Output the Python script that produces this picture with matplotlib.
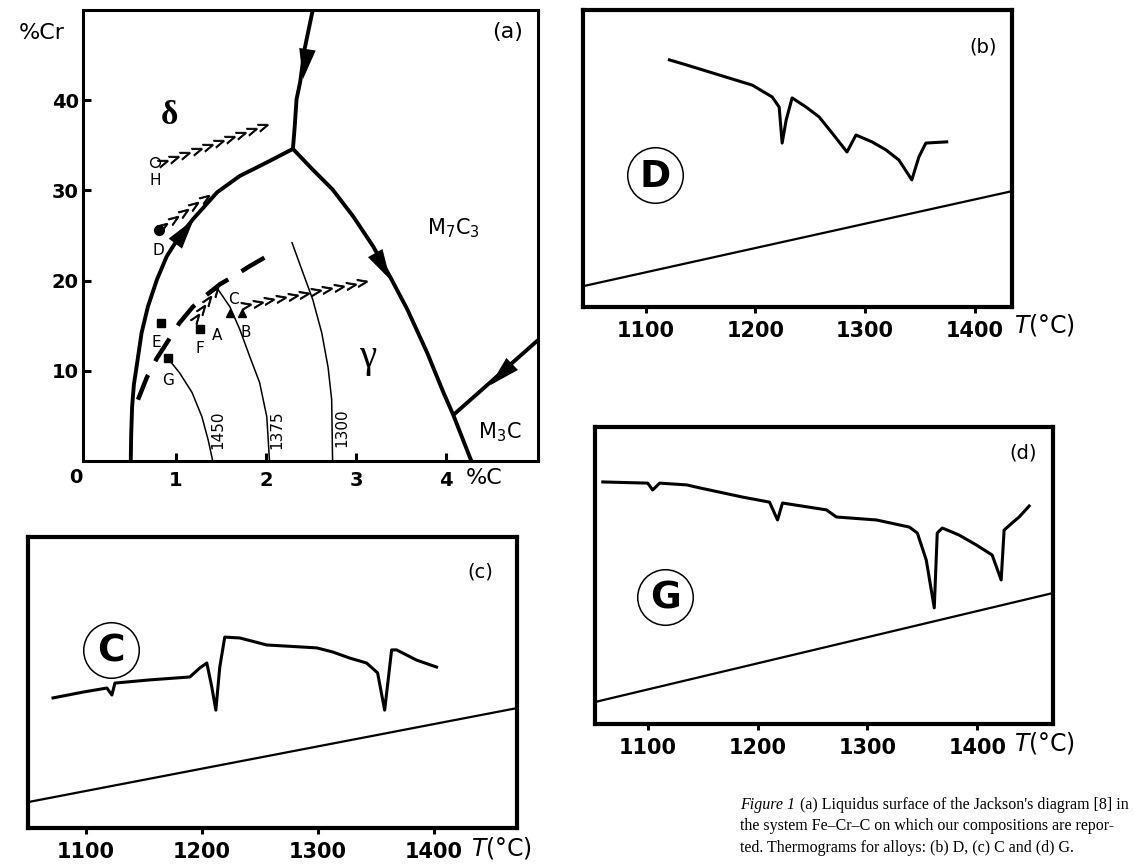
import numpy as np
import matplotlib
matplotlib.use('Agg')
import matplotlib.pyplot as plt
from matplotlib.markers import MarkerStyle
from matplotlib.transforms import Affine2D

# ---- panel (a): liquidus surface, Jackson's diagram (%C, %Cr) ----
# thick univariant lines
delta_gamma_C = [0.50, 0.505, 0.515, 0.535, 0.57, 0.62, 0.69, 0.79, 0.90, 1.04, 1.19, 1.46, 1.71, 2.01, 2.30]
delta_gamma_Cr = [0.0, 3.0, 6.0, 8.5, 10.8, 14.2, 17.1, 20.1, 22.7, 24.9, 26.8, 29.8, 31.6, 33.1, 34.6]
top_C = [2.30, 2.32, 2.34, 2.38, 2.43, 2.52]
top_Cr = [34.6, 37.1, 40.1, 42.0, 45.7, 50.0]
gamma_m7_C = [2.30, 2.52, 2.74, 2.97, 3.19, 3.38, 3.57, 3.79, 3.97, 4.08, 4.28]
gamma_m7_Cr = [34.6, 32.3, 30.1, 27.1, 23.8, 20.4, 16.8, 12.0, 7.6, 5.1, 0.0]
m3c_C = [4.08, 5.02]
m3c_Cr = [5.1, 13.4]
# dashed line
dash_C = [0.58, 0.68, 0.79, 0.90, 1.04, 1.19, 1.34, 1.49, 1.63, 1.82, 2.08]
dash_Cr = [6.8, 9.3, 11.4, 13.1, 15.3, 17.1, 18.4, 19.6, 20.4, 21.6, 23.1]
# isotherms
iso_labels = ['1450', '1375', '1300']
iso_C = [[0.91, 1.04, 1.18, 1.29, 1.36, 1.41],
         [1.47, 1.60, 1.71, 1.82, 1.93, 2.01, 2.04],
         [2.29, 2.41, 2.52, 2.62, 2.69, 2.73, 2.74]]
iso_Cr = [[11.4, 9.8, 7.6, 4.9, 2.3, 0.0],
          [19.0, 17.1, 14.6, 11.6, 8.7, 4.9, 0.0],
          [24.2, 20.9, 17.9, 14.2, 10.4, 6.8, 0.0]]
# flow arrows on the thick lines (tail, head)
arrow_tail = [(1.01, 24.3), (2.47, 46.2), (3.16, 24.0), (4.82, 11.6)]
arrow_head = [(1.20, 26.8), (2.41, 42.3), (3.38, 20.1), (4.49, 8.4)]
# alloy compositions
alloy_names = ['H', 'D', 'E', 'F', 'G', 'A', 'B']
alloy_C = [0.77, 0.81, 0.84, 1.27, 0.91, 1.60, 1.73]
alloy_Cr = [33.2, 25.6, 15.3, 14.6, 11.4, 16.4, 16.4]
alloy_marker = ['o', 'o', 's', 's', 's', '^', '^']
alloy_fill = ['white', 'black', 'black', 'black', 'black', 'black', 'black']
# solidification paths (chevrons)
path_start = [(0.86, 33.1), (0.86, 26.0), (1.22, 15.9), (1.78, 17.3)]
path_end = [(1.97, 37.1), (1.32, 29.2), (1.43, 18.8), (3.07, 19.8)]
path_n = [10, 5, 4, 11]

# ---- thermograms ----
T_ticks = [1100, 1200, 1300, 1400]

T_D = [1121.8, 1137.3, 1167.3, 1197.3, 1215.5, 1221.8, 1224.5, 1228.2, 1233.6, 1246.4, 1258.2,
       1270.0, 1283.6, 1291.8, 1306.4, 1319.1, 1330.9, 1342.7, 1349.1, 1355.5, 1374.5]
s_D = [0.832, 0.815, 0.781, 0.747, 0.707, 0.673, 0.552, 0.630, 0.704, 0.673, 0.640,
       0.586, 0.522, 0.579, 0.556, 0.529, 0.495, 0.428, 0.505, 0.552, 0.556]
base_D_T = [1043, 1434]
base_D_s = [0.07, 0.39]

T_C = [1071.6, 1097.4, 1118.1, 1122.4, 1125.0, 1155.2, 1189.7, 1198.3, 1204.3, 1208.6, 1212.1,
       1215.5, 1219.8, 1232.8, 1256.0, 1299.1, 1312.9, 1327.6, 1342.2, 1351.7, 1357.8, 1363.8,
       1368.1, 1385.3, 1402.6]
s_C = [0.447, 0.467, 0.481, 0.457, 0.498, 0.509, 0.519, 0.550, 0.567, 0.485, 0.405,
       0.553, 0.656, 0.653, 0.629, 0.619, 0.605, 0.584, 0.567, 0.533, 0.405, 0.612,
       0.612, 0.577, 0.553]
base_C_T = [1050, 1472]
base_C_s = [0.089, 0.412]

T_G = [1059.1, 1100.0, 1104.5, 1110.9, 1135.5, 1147.3, 1186.4, 1210.9, 1218.2, 1222.7, 1262.7,
       1271.8, 1308.2, 1338.2, 1345.5, 1353.6, 1360.9, 1363.6, 1368.2, 1383.6, 1399.1, 1413.6,
       1421.8, 1424.5, 1431.8, 1438.2, 1447.3]
s_G = [0.815, 0.811, 0.788, 0.811, 0.805, 0.795, 0.764, 0.747, 0.687, 0.744, 0.721,
       0.697, 0.687, 0.663, 0.643, 0.552, 0.391, 0.643, 0.660, 0.636, 0.603, 0.569,
       0.485, 0.653, 0.677, 0.697, 0.734]
base_G_T = [1052, 1469]
base_G_s = [0.074, 0.441]

W, H = 1133, 864
fig = plt.figure(figsize=(W/100, H/100), dpi=100)
fig.patch.set_facecolor('white')

def px_axes(left, top, right, bottom):
    return fig.add_axes([left/W, 1-bottom/H, (right-left)/W, (bottom-top)/H])

# ---------------- (a) ----------------
ax = px_axes(83, 10, 538, 461)
ax.set_xlim(-0.03, 5.02)
ax.set_ylim(0, 50)
for sp in ax.spines.values():
    sp.set_linewidth(2.2)
ax.set_xticks([1, 2, 3, 4])
ax.set_yticks([10, 20, 30, 40])
ax.tick_params(axis='both', direction='in', length=6, width=2.2, labelsize=14)
ax.tick_params(axis='x', pad=7)
ax.tick_params(axis='y', pad=3)
for lab in ax.get_xticklabels() + ax.get_yticklabels():
    lab.set_fontweight('bold')

thick = dict(color='black', lw=2.8, solid_capstyle='butt', solid_joinstyle='round')
ax.plot(delta_gamma_C, delta_gamma_Cr, **thick)
ax.plot(top_C, top_Cr, **thick)
ax.plot(gamma_m7_C, gamma_m7_Cr, **thick)
ax.plot(m3c_C, m3c_Cr, **thick)
ax.plot(dash_C, dash_Cr, color='black', lw=3.2, dashes=(6, 3.5))
for cs, crs, lab in zip(iso_C, iso_Cr, iso_labels):
    ax.plot(cs, crs, color='black', lw=1.1)
ax.text(1.47, 3.5, iso_labels[0], rotation=90, fontsize=11, ha='center', va='center')
ax.text(2.12, 3.5, iso_labels[1], rotation=90, fontsize=11, ha='center', va='center')
ax.text(2.84, 3.7, iso_labels[2], rotation=90, fontsize=11, ha='center', va='center')

for tail, head in zip(arrow_tail, arrow_head):
    ax.annotate('', xy=head, xytext=tail,
                arrowprops=dict(arrowstyle='-|>,head_length=1.1,head_width=0.3',
                                mutation_scale=20, lw=0, color='black',
                                shrinkA=0, shrinkB=0))

for name, c, cr, m, f in zip(alloy_names, alloy_C, alloy_Cr, alloy_marker, alloy_fill):
    ax.plot(c, cr, marker=m, ms=7 if m == 'o' else 6, mfc=f, mec='black', mew=1, ls='none')
lab_off = {'H': (0, -14), 'D': (0, -15), 'E': (-4, -14), 'F': (0, -14),
           'G': (0, -16), 'A': (-9, -16), 'B': (3, -14)}
for name, c, cr in zip(alloy_names, alloy_C, alloy_Cr):
    ax.annotate(name, (c, cr), xytext=lab_off[name], textcoords='offset points',
                ha='center', va='center', fontsize=11)
ax.annotate('C', (1.64, 17.9), xytext=(0, 0), textcoords='offset points',
            ha='center', va='center', fontsize=11)

# chevron paths, rotated to the path direction on screen
for (x0, y0), (x1, y1), n in zip(path_start, path_end, path_n):
    p0 = ax.transData.transform((x0, y0))
    p1 = ax.transData.transform((x1, y1))
    ang = np.degrees(np.arctan2(p1[1]-p0[1], p1[0]-p0[0]))
    mk = MarkerStyle(r'$>$', transform=Affine2D().rotate_deg(ang))
    t = np.linspace(0, 1, n)
    ax.plot(x0 + t*(x1-x0), y0 + t*(y1-y0), ls='none', marker=mk, ms=7,
            color='black', mew=0.6)

ax.text(0.93, 38.3, 'δ', fontsize=24, fontweight='bold', family='Liberation Serif',
        ha='center', va='center')
ax.text(3.13, 11.5, 'γ', fontsize=28, family='Liberation Serif', ha='center', va='center')
ax.text(4.08, 25.8, r'M$_7$C$_3$', fontsize=15, ha='center', va='center')
ax.text(4.6, 3.2, r'M$_3$C', fontsize=15, ha='center', va='center')
ax.text(4.68, 47.6, '(a)', fontsize=16, ha='center', va='center')
fig.text(42/W, 1-33/H, '%Cr', fontsize=16, ha='center', va='center')
fig.text(76/W, 1-477/H, '0', fontsize=14, fontweight='bold', ha='center', va='center')
fig.text(484/W, 1-478/H, '%C', fontsize=16, ha='center', va='center')

# ---------------- thermograms ----------------
def thermogram(box, xlim, T, s, bT, bs, letter, letter_xy, tag, tag_xy, unit_xy):
    a = px_axes(*box)
    a.set_xlim(*xlim)
    a.set_ylim(0, 1)
    for sp in a.spines.values():
        sp.set_linewidth(3)
    a.set_yticks([])
    a.set_xticks(T_ticks)
    a.tick_params(axis='x', direction='out', length=4, width=2.2, labelsize=15, pad=6)
    for lab in a.get_xticklabels():
        lab.set_fontweight('bold')
    a.plot(T, s, color='black', lw=2.2, solid_joinstyle='round')
    a.plot(bT, bs, color='black', lw=1.6)
    a.plot(*letter_xy, transform=a.transAxes, marker='o', ms=40, mfc='white',
           mec='black', mew=1.1, ls='none')
    a.text(letter_xy[0], letter_xy[1] - 0.005, letter, transform=a.transAxes, fontsize=27,
           fontweight='bold', ha='center', va='center')
    a.text(*tag_xy, tag, transform=a.transAxes, fontsize=14, ha='center', va='center')
    a.text(*unit_xy, r'$T$(°C)', transform=a.transAxes, fontsize=17, ha='left',
           va='center', clip_on=False)
    return a

thermogram((583, 10, 1012, 307), (1043, 1434), T_D, s_D, base_D_T, base_D_s,
           'D', (0.168, 0.444), '(b)', (0.932, 0.875), (1.005, -0.06))
thermogram((28, 537, 517, 828), (1050, 1472), T_C, s_C, base_C_T, base_C_s,
           'C', (0.170, 0.612), '(c)', (0.924, 0.88), (0.905, -0.07))
thermogram((595, 427, 1053, 724), (1052, 1469), T_G, s_G, base_G_T, base_G_s,
           'G', (0.153, 0.428), '(d)', (0.934, 0.912), (0.915, -0.065))

# caption
cap_font = dict(family='Liberation Serif', fontsize=11.5, va='center', ha='left')
fig.text(740/W, 1-805/H, 'Figure 1', style='italic', **cap_font)
fig.text(800/W, 1-805/H, "(a) Liquidus surface of the Jackson's diagram [8] in", **cap_font)
fig.text(740/W, 1-826/H, 'the system Fe–Cr–C on which our compositions are repor-', **cap_font)
fig.text(740/W, 1-848/H, 'ted. Thermograms for alloys: (b) D, (c) C and (d) G.', **cap_font)

fig.savefig('out.png', dpi=100, facecolor='white')
